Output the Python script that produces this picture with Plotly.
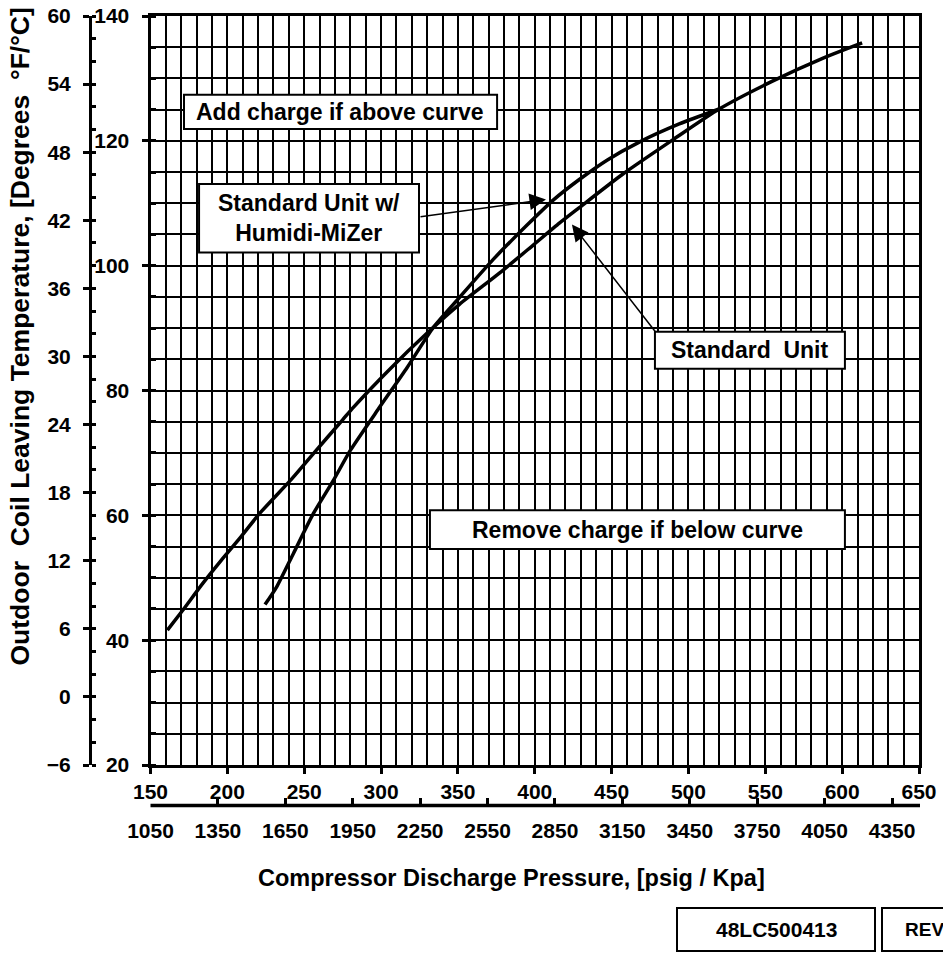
import plotly.graph_objects as go

# ---- data ----
std_psig = [161, 171, 184, 196, 208, 221, 241, 256, 275, 282, 306, 330, 351, 377, 399, 416, 429, 458, 490, 520, 555, 588, 613]
std_temp = [41.6, 44.8, 49.1, 52.8, 56.3, 60.3, 65.6, 69.9, 75.3, 77.3, 83.5, 89.2, 93.8, 98.8, 103.3, 106.8, 109.3, 114.8, 120.2, 125.1, 129.6, 133.3, 135.7]
hmz_psig = [224.5, 232, 243, 256, 269, 280, 299, 317, 334, 351, 373, 395, 412, 429, 447, 468, 494, 520]
hmz_temp = [45.7, 48.5, 53.9, 60.3, 65.6, 70.4, 77.3, 83.7, 90.1, 94.9, 101.0, 106.5, 110.5, 113.8, 116.9, 119.8, 122.7, 125.1]

psig_ticks = [150, 200, 250, 300, 350, 400, 450, 500, 550, 600, 650]
kpa_ticks = [1050, 1350, 1650, 1950, 2250, 2550, 2850, 3150, 3450, 3750, 4050, 4350]
degF_ticks = [20, 40, 60, 80, 100, 120, 140]
degC_ticks = [-6, 0, 6, 12, 18, 24, 30, 36, 42, 48, 54, 60]

FONT = "Liberation Sans, Arial, sans-serif"
W, H = 943, 956
ML, MR, MT, MB = 80, 24, 16, 120
PW = W - ML - MR
PH = H - MT - MB


def px(xp):
    return (xp - ML) / PW


def py(yp):
    return (H - MB - yp) / PH


xdom = [px(150.5), 1]
ydom = [py(765), 1]

fig = go.Figure()
fig.add_trace(go.Scatter(x=std_psig, y=std_temp, mode="lines", name="Standard Unit",
                         line=dict(color="black", width=3.5, shape="spline", smoothing=0.6),
                         showlegend=False))
fig.add_trace(go.Scatter(x=hmz_psig, y=hmz_temp, mode="lines", name="Standard Unit w/ Humidi-MiZer",
                         line=dict(color="black", width=3.5, shape="spline", smoothing=0.6),
                         showlegend=False))
# empty traces so that the secondary (kPa / °C) axes get drawn
fig.add_trace(go.Scatter(x=[], y=[], xaxis="x2", yaxis="y", showlegend=False, hoverinfo="skip"))
fig.add_trace(go.Scatter(x=[], y=[], xaxis="x", yaxis="y2", showlegend=False, hoverinfo="skip"))

tickfont = dict(family=FONT, size=21, color="black", weight="bold")

fig.update_layout(
    width=W, height=H,
    margin=dict(l=ML, r=MR, t=MT, b=MB, autoexpand=False),
    paper_bgcolor="white", plot_bgcolor="white",
    xaxis=dict(domain=xdom, range=[150, 650], tickvals=psig_ticks, automargin=False,
               ticks="outside", ticklen=6, tickwidth=2.5, tickcolor="black",
               showline=True, linewidth=3, linecolor="black", mirror=True,
               showgrid=True, gridcolor="black", gridwidth=2,
               minor=dict(dtick=10, showgrid=True, gridcolor="black", gridwidth=2),
               tickfont=tickfont, ticklabelstandoff=0, zeroline=False),
    yaxis=dict(domain=ydom, range=[20, 140], tickvals=degF_ticks, automargin=False,
               ticks="outside", ticklen=6, tickwidth=2.5, tickcolor="black",
               showline=True, linewidth=3, linecolor="black", mirror=True,
               showgrid=True, gridcolor="black", gridwidth=2,
               minor=dict(dtick=5, showgrid=True, gridcolor="black", gridwidth=2,
                          ticks="inside", ticklen=5, tickwidth=2.5, tickcolor="black"),
               tickfont=tickfont, ticklabelstandoff=8, zeroline=False),
    xaxis2=dict(overlaying="x", anchor="free", position=py(805), side="bottom", automargin=False,
                range=[1050, 4470], tickvals=kpa_ticks,
                ticks="inside", ticklen=6, tickwidth=2.5, tickcolor="black",
                showline=True, linewidth=3, linecolor="black",
                showgrid=False, zeroline=False, tickfont=tickfont, ticklabelstandoff=6),
    yaxis2=dict(overlaying="y", anchor="free", position=px(90), side="left", automargin=False,
                range=[-6, 60], tickvals=degC_ticks,
                ticks="outside", ticklen=6, tickwidth=2.5, tickcolor="black",
                showline=True, linewidth=3, linecolor="black",
                showgrid=False, zeroline=False, tickfont=tickfont, ticklabelstandoff=8,
                minor=dict(dtick=2, ticks="inside", ticklen=4, tickwidth=2.5, tickcolor="black")),
)

# kPa axis base line (drawn explicitly)
fig.add_shape(type="line", xref="paper", yref="paper", x0=px(150.5), x1=px(920), y0=py(805.5), y1=py(805.5),
              line=dict(color="black", width=3.5))

# boxes in the plot (data coordinates)
boxes = [
    (171.8, 375.5, 121.9, 127.4),
    (181.6, 324.7, 102.1, 113.1),
    (478.2, 601.8, 83.5, 89.4),
    (331.8, 601.8, 54.6, 60.8),
]
for x0, x1, y0, y1 in boxes:
    fig.add_shape(type="rect", xref="x", yref="y", x0=x0, x1=x1, y0=y0, y1=y1,
                  fillcolor="white", line=dict(color="black", width=2), layer="above")

afont = dict(family=FONT, size=23, color="black", weight="bold")
texts = [
    ("Add charge if above curve", 273.6, 124.65),
    ("Standard Unit w/<br>Humidi-MiZer", 253.1, 107.6),
    ("Standard  Unit", 540.0, 86.45),
    ("Remove charge if below curve", 466.8, 57.7),
]
for t, x, y in texts:
    fig.add_annotation(text=t, x=x, y=y, xref="x", yref="y", showarrow=False, font=afont,
                       xanchor="center", yanchor="middle")

# arrows
fig.add_annotation(x=407.3, y=110.6, ax=324.7, ay=107.8, xref="x", yref="y", axref="x", ayref="y",
                   text="", showarrow=True, arrowhead=2, arrowsize=2.2, arrowwidth=1.5, arrowcolor="black")
fig.add_annotation(x=424.2, y=106.6, ax=479.5, ay=89.1, xref="x", yref="y", axref="x", ayref="y",
                   text="", showarrow=True, arrowhead=2, arrowsize=2.2, arrowwidth=1.5, arrowcolor="black")

# axis titles
fig.add_annotation(text="Compressor Discharge Pressure, [psig / Kpa]", x=px(511), y=py(878),
                   xref="paper", yref="paper", showarrow=False, xanchor="center", yanchor="middle",
                   font=dict(family=FONT, size=23.5, color="black", weight="bold"))
fig.add_annotation(text="Outdoor  Coil Leaving Temperature, [Degrees  °F/°C]", x=px(19), y=py(336.5),
                   xref="paper", yref="paper", showarrow=False, textangle=-90,
                   xanchor="center", yanchor="middle",
                   font=dict(family=FONT, size=26.5, color="black", weight="bold"))

# drawing number boxes
fig.add_shape(type="rect", xref="paper", yref="paper", x0=px(677), x1=px(875), y0=py(951), y1=py(908),
              line=dict(color="black", width=2), fillcolor="white")
fig.add_shape(type="rect", xref="paper", yref="paper", x0=px(882), x1=px(990), y0=py(951), y1=py(908),
              line=dict(color="black", width=2), fillcolor="white")
fig.add_annotation(text="48LC500413", x=px(776), y=py(929.5), xref="paper", yref="paper",
                   showarrow=False, xanchor="center", yanchor="middle",
                   font=dict(family=FONT, size=21, color="black", weight="bold"))
fig.add_annotation(text="REV", x=px(903), y=py(929.5), xref="paper", yref="paper",
                   showarrow=False, xanchor="left", yanchor="middle",
                   font=dict(family=FONT, size=19, color="black", weight="bold"))

fig.write_html("out.html")
